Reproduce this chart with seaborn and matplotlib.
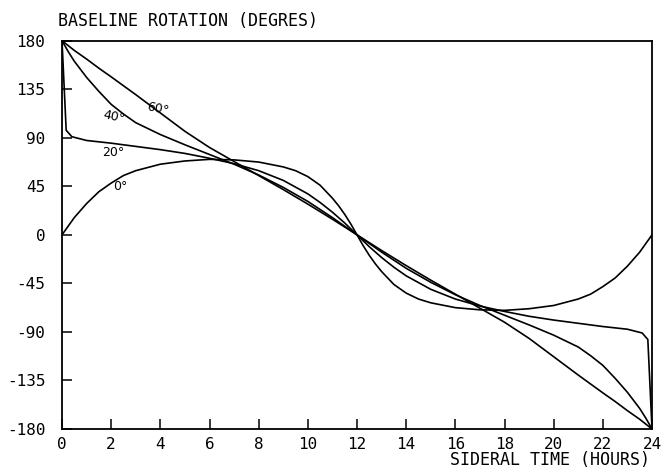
import numpy as np
import pandas as pd
import seaborn as sns
import matplotlib
matplotlib.use("Agg")
import matplotlib.pyplot as plt

# sideral time (hours) and baseline rotation (degrees)
t_dec0 = [0, 0.25, 0.5, 1, 1.5, 2, 2.5, 3, 4, 5, 6, 7, 8, 9, 9.5, 10, 10.5, 11,
          11.25, 11.5, 11.75, 12, 12.25, 12.5, 12.75, 13, 13.5, 14, 14.5, 15,
          16, 17, 18, 19, 20, 21, 21.5, 22, 22.5, 23, 23.5, 23.75, 24]
rot_dec0 = [0, 8, 16, 29, 40, 48, 55, 59.5, 65.5, 68.5, 70, 69.5, 67.5, 63, 59.5,
            54, 46, 34, 27, 19, 10, 0, -10, -19, -27, -34, -46, -54, -59.5, -63,
            -67.5, -69.5, -70, -68.5, -65.5, -59.5, -55, -48, -40, -29, -16, -8, 0]

t_dec20 = [0, 0.17, 0.4, 1, 2, 3, 4, 5, 6, 7, 8, 9, 10, 10.5, 11, 11.5, 12,
           12.5, 13, 13.5, 14, 15, 16, 17, 18, 19, 20, 21, 22, 23, 23.6, 23.83, 24]
rot_dec20 = [180, 97, 91, 87.5, 85, 82, 79, 75.5, 71, 66, 59.5, 50.5, 38, 30, 21,
             11, 0, -11, -21, -30, -38, -50.5, -59.5, -66, -71, -75.5, -79, -82,
             -85, -87.5, -91, -97, -180]

t_dec40 = [0, 0.25, 0.5, 1, 1.5, 2, 2.5, 3, 4, 5, 6, 7, 8, 9, 10, 11, 12, 13, 14,
           15, 16, 17, 18, 19, 20, 21, 21.5, 22, 22.5, 23, 23.5, 23.75, 24]
rot_dec40 = [180, 170, 161, 146, 133, 121, 112, 104, 93, 83.5, 74.5, 65.5, 55.5,
             44, 31, 16, 0, -16, -31, -44, -55.5, -65.5, -74.5, -83.5, -93, -104,
             -112, -121, -133, -146, -161, -170, -180]

t_dec60 = [0, 0.5, 1, 1.5, 2, 3, 4, 5, 6, 7, 8, 9, 10, 11, 12, 13, 14, 15, 16,
           17, 18, 19, 20, 21, 22, 22.5, 23, 23.5, 24]
rot_dec60 = [180, 171, 163, 154.5, 146.5, 130, 113, 96, 81, 68, 55, 42, 28.5,
             14.5, 0, -14.5, -28.5, -42, -55, -68, -81, -96, -113, -130, -146.5,
             -154.5, -163, -171, -180]

curve_labels = ["0°", "20°", "40°", "60°"]

frames = []
for lab, t, r in zip(curve_labels,
                     [t_dec0, t_dec20, t_dec40, t_dec60],
                     [rot_dec0, rot_dec20, rot_dec40, rot_dec60]):
    frames.append(pd.DataFrame({"t": t, "rot": r, "decl": lab}))
df = pd.concat(frames, ignore_index=True)

sns.set_style("ticks")
plt.rcParams["axes.unicode_minus"] = False
plt.rcParams["text.color"] = "black"
mono = "DejaVu Sans Mono"

fig = plt.figure(figsize=(6.61, 4.69), dpi=100)
ax = fig.add_axes([0.0938, 0.0853, 0.8926, 0.8279])

sns.lineplot(data=df, x="t", y="rot", hue="decl", units="decl", estimator=None,
             sort=False, palette=["black"] * 4, linewidth=1.2, legend=False, ax=ax)

ax.set_xlim(0, 24)
ax.set_ylim(-180, 180)
ax.set_xticks(np.arange(0, 25, 2))
ax.set_yticks(np.arange(-180, 181, 45))
ax.set_xlabel("")
ax.set_ylabel("")
for s in ax.spines.values():
    s.set_linewidth(1.3)
    s.set_color("black")
ax.tick_params(direction="in", length=7, width=1.1, colors="black",
               labelcolor="black", labelsize=11.5)
ax.tick_params(axis="y", pad=12)
ax.tick_params(axis="x", pad=6)
for lbl in ax.get_xticklabels() + ax.get_yticklabels():
    lbl.set_family(mono)

# curve annotations
ax.text(2.36, 45, "0°", fontsize=9, ha="center", va="center", color="black")
ax.text(2.07, 76, "20°", fontsize=9, ha="center", va="center", color="black")
ax.text(2.12, 109, "40°", fontsize=9, ha="center", va="center", color="black", rotation=-12)
ax.text(3.9, 117, "60°", fontsize=9, ha="center", va="center", color="black", rotation=-12)

fig.text(58 / 661, 1 - 21 / 469, "BASELINE ROTATION (DEGRES)", ha="left", va="center",
         fontsize=12, family=mono, color="black")
fig.text(650 / 661, 1 - 460 / 469, "SIDERAL TIME (HOURS)", ha="right", va="center",
         fontsize=12, family=mono, color="black")

fig.savefig("out.png", dpi=100)
